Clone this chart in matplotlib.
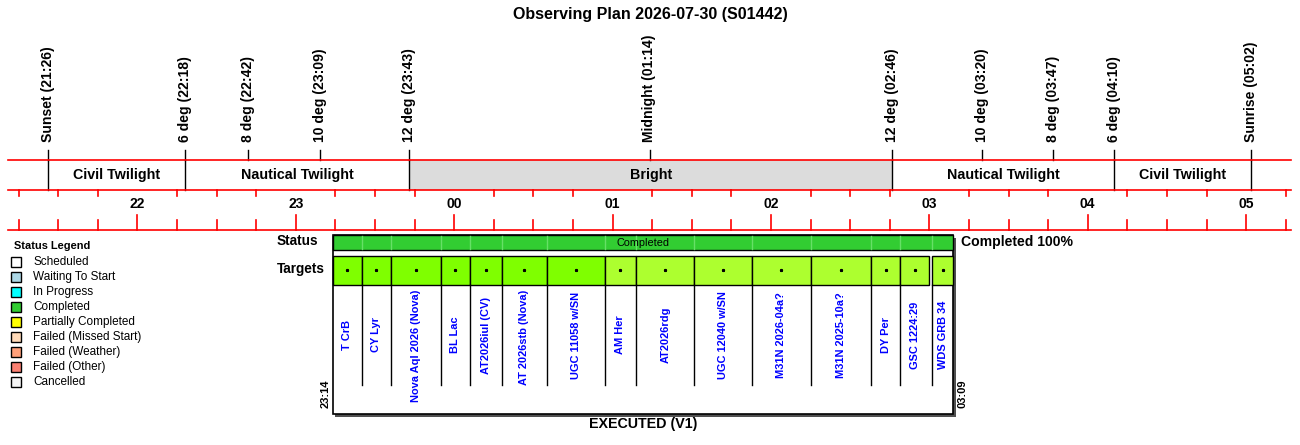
import matplotlib
matplotlib.use('Agg')
import math
import matplotlib.pyplot as plt
from matplotlib.patches import Rectangle

plt.rcParams['font.family'] = ['Liberation Sans', 'DejaVu Sans']

# ---- data ----
title = 'Observing Plan 2026-07-30 (S01442)'
plan_label = 'EXECUTED (V1)'
plan_start = '23:14'
plan_end = '03:09'
plan_status = 'Completed'
plan_pct = 100

event_names = ['Sunset', '6 deg', '8 deg', '10 deg', '12 deg', 'Midnight',
               '12 deg', '10 deg', '8 deg', '6 deg', 'Sunrise']
event_times = ['21:26', '22:18', '22:42', '23:09', '23:43', '01:14',
               '02:46', '03:20', '03:47', '04:10', '05:02']

band_names = ['Civil Twilight', 'Nautical Twilight', 'Bright',
              'Nautical Twilight', 'Civil Twilight']
band_edges = ['21:26', '22:18', '23:43', '02:46', '04:10', '05:02']

target_names = ['T CrB', 'CY Lyr', 'Nova Aql 2026 (Nova)', 'BL Lac',
                'AT2026iul (CV)', 'AT 2026stb (Nova)', 'UGC 11058 w/SN',
                'AM Her', 'AT2026rdg', 'UGC 12040 w/SN', 'M31N 2026-04a?',
                'M31N 2025-10a?', 'DY Per', 'GSC 1224:29', 'WDS GRB 34']
target_start = ['23:14', '23:25', '23:36', '23:55', '00:06', '00:18', '00:35',
                '00:57', '01:09', '01:31', '01:53', '02:15', '02:38', '02:49',
                '03:01']
target_end = ['23:25', '23:36', '23:55', '00:06', '00:18', '00:35', '00:57',
              '01:09', '01:31', '01:53', '02:15', '02:38', '02:49', '03:00',
              '03:09']
target_group = ['A'] * 7 + ['B'] * 8

legend_names = ['Scheduled', 'Waiting To Start', 'In Progress', 'Completed',
                'Partially Completed', 'Failed (Missed Start)',
                'Failed (Weather)', 'Failed (Other)', 'Cancelled']
legend_colors = ['white', 'lightblue', 'cyan', 'limegreen', 'yellow',
                 'peachpuff', 'lightsalmon', 'salmon', 'whitesmoke']
group_colors = {'A': '#7fff00', 'B': '#adff2f'}


def hrs(s):
    h, m = map(int, s.split(':'))
    v = h + m / 60
    if v < 12:
        v += 24
    return v


W, H = 1300, 445
fig = plt.figure(figsize=(W / 100, H / 100), dpi=100)

# time axis mapped onto pixels 8..1291
x_lo = hrs(event_times[0]) - 0.25
x_hi = hrs(event_times[-1]) + 0.25
pph = (1291 - 8) / (x_hi - x_lo)
ax = fig.add_axes([0, 0, 1, 1])
ax.set_xlim(x_lo - 8 / pph, x_lo + (W - 8) / pph)
ax.set_ylim(H, 0)
ax.axis('off')

px = fig.add_axes([0, 0, 1, 1])
px.set_xlim(0, W)
px.set_ylim(H, 0)
px.axis('off')
px.patch.set_alpha(0)

px.text(650, 15, title, ha='center', va='center', fontsize=11.5,
        fontweight='bold')

# events
for name, t in zip(event_names, event_times):
    x = hrs(t)
    ax.plot([x, x], [150, 160], color='black', lw=1)
    ax.text(x, 142, f'{name} ({t})', rotation=90, ha='center', va='bottom',
            fontsize=10.1, fontweight='bold')

# bands
for i, name in enumerate(band_names):
    a, b = hrs(band_edges[i]), hrs(band_edges[i + 1])
    if name == 'Bright':
        ax.add_patch(Rectangle((a, 160), b - a, 30, facecolor='#dcdcdc',
                               edgecolor='none'))
    ax.text((a + b) / 2, 174.5, name, ha='center', va='center',
            fontsize=10.3, fontweight='bold')
for t in band_edges:
    ax.plot([hrs(t)] * 2, [160, 190], color='black', lw=1)

for y in (160, 190, 230):
    ax.plot([x_lo, x_hi], [y, y], color='red', lw=1.2)

# hour ticks
q = math.ceil(x_lo * 4) / 4
while q <= x_hi:
    if abs(q - round(q)) < 1e-6:
        ax.plot([q, q], [215, 230], color='red', lw=1.2)
        ax.text(q, 204, f'{int(round(q)) % 24:02d}', ha='center',
                va='center', fontsize=10, fontweight='bold')
    else:
        ax.plot([q, q], [190, 196], color='red', lw=1.2)
        ax.plot([q, q], [220, 230], color='red', lw=1.2)
    q += 0.25

# status legend
px.text(14, 246, 'Status Legend', ha='left', va='center', fontsize=7.9,
        fontweight='bold')
for i, (name, c) in enumerate(zip(legend_names, legend_colors)):
    y = 262 + i * 15
    px.add_patch(Rectangle((11, y - 5), 10, 10, facecolor=c,
                           edgecolor='black', lw=1))
    px.text(33, y, name, ha='left', va='center', fontsize=8.5)

# plan box
s, e = hrs(plan_start), hrs(plan_end)
sh = 2.5 / pph
ax.add_patch(Rectangle((s + sh, 237.5), e - s, 179, facecolor='#505050',
                       edgecolor='none', zorder=1))
ax.add_patch(Rectangle((s, 235), e - s, 179, facecolor='white',
                       edgecolor='black', lw=1.2, zorder=2))
ax.add_patch(Rectangle((s, 235), e - s, 15, facecolor='limegreen',
                       edgecolor='black', lw=1, zorder=3))
for t in target_start[1:]:
    ax.plot([hrs(t)] * 2, [235.8, 249.3], color='#66e066', lw=1, zorder=4)
ax.text((s + e) / 2, 242.5, plan_status, ha='center', va='center',
        fontsize=7.8, zorder=5)

name_texts = []
for name, a, b, g in zip(target_names, target_start, target_end,
                         target_group):
    a, b = hrs(a), hrs(b)
    ax.add_patch(Rectangle((a, 255.5), b - a, 29.5,
                           facecolor=group_colors[g], edgecolor='black',
                           lw=1, zorder=3))
    ax.plot((a + b) / 2, 270, marker='*', ms=2, color='black', zorder=4)
    name_texts.append(ax.text((a + b) / 2, 335, name, rotation=90,
                              ha='center', va='center', fontsize=7.9,
                              fontweight='bold', color='blue', zorder=4))
for t in target_start[1:]:
    ax.plot([hrs(t)] * 2, [285, 385], color='black', lw=1, zorder=4)

# long names are pushed down so they start just below the target row
fig.canvas.draw()
r = fig.canvas.get_renderer()
for txt in name_texts:
    hpx = txt.get_window_extent(r).height
    if 335 - hpx / 2 < 290:
        txt.set_y(290 + hpx / 2)

ax.text(s - 7 / pph, 408, plan_start, rotation=90, ha='center', va='bottom',
        fontsize=8, fontweight='bold')
ax.text(e + 9 / pph, 408, plan_end, rotation=90, ha='center', va='bottom',
        fontsize=8, fontweight='bold')
ax.text((s + e) / 2, 424, plan_label, ha='center', va='center',
        fontsize=10.3, fontweight='bold')

px.text(277, 241, 'Status', ha='left', va='center', fontsize=9.8,
        fontweight='bold')
px.text(277, 269, 'Targets', ha='left', va='center', fontsize=9.8,
        fontweight='bold')
ax.text(e + 8 / pph, 242, f'{plan_status} {plan_pct}%', ha='left',
        va='center', fontsize=10.1, fontweight='bold')

fig.savefig('out.png', dpi=100, facecolor='white')
